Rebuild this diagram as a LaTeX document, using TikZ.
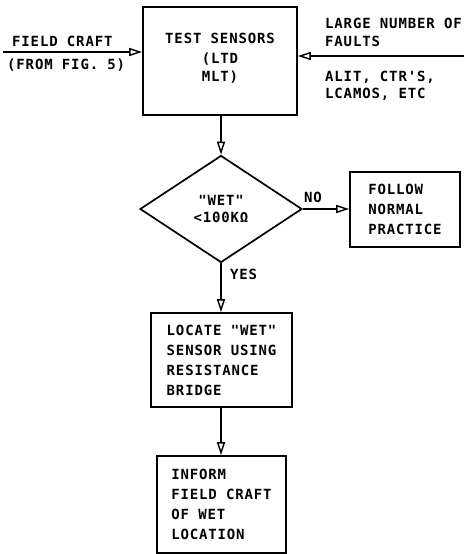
\documentclass[tikz,border=0pt]{standalone}
\usepackage{fontspec}
\setmonofont{DejaVu Sans Mono}[LetterSpace=6, BoldFont={DejaVu Sans Mono Bold}]
\usetikzlibrary{arrows.meta, shapes.geometric, positioning}

\tikzset{
  flow/.style={line width=1.7pt, -{Triangle[open, length=13pt, width=8pt, line width=1.4pt]}},
  stepbox/.style={draw, line width=1.7pt, align=left, inner sep=0pt},
  txt/.style={inner sep=0pt, align=left, anchor=west}
}

\begin{document}
\begin{tikzpicture}[x=1pt, y=-1pt, font=\ttfamily\bfseries\fontsize{14}{20}\selectfont]
  \useasboundingbox (0,0) rectangle (464,554);
  % boxes
  \node[stepbox, align=center, minimum width=154, minimum height=108] (sens) at (220,61)
    {TEST SENSORS\\[0pt](LTD\\[-2pt]MLT)\\[-12pt]};
  \node[draw, line width=1.7pt, shape=diamond, minimum width=162, minimum height=107,
    inner sep=0pt, align=center] (wet) at (221,209) {"WET"\\[-3pt]<100KΩ};
  \node[stepbox, minimum width=110, minimum height=75] (follow) at (405,209.5)
    {FOLLOW\\NORMAL\\PRACTICE};
  \node[stepbox, minimum width=141, minimum height=94] (locate) at (221.5,360)
    {LOCATE "WET"\\SENSOR USING\\RESISTANCE\\BRIDGE};
  \node[stepbox, minimum width=129, minimum height=97] (inform) at (221.5,504.5)
    {INFORM\\FIELD CRAFT\\OF WET\\LOCATION};
  % inputs
  \coordinate (lin) at (3,52);
  \coordinate (rin) at (464,56);
  \node[txt] (fc) at (12,41) {FIELD CRAFT};
  \node[txt] (fig) at (7,65) {(FROM FIG. 5)};
  \node[txt, font=\ttfamily\bfseries\fontsize{14}{18}\selectfont] (many) at (325,32) {LARGE NUMBER OF\\FAULTS};
  \node[txt, font=\ttfamily\bfseries\fontsize{14}{17}\selectfont] (alit) at (325,85.5) {ALIT, CTR'S,\\LCAMOS, ETC};
  \draw[flow] (lin) -- (lin -| sens.west);
  \draw[flow] (rin) -- (rin -| sens.east);
  % flow
  \draw[flow] (sens.south -| wet.north) -- (wet.north);
  \draw[flow] (wet.east) -- (follow.west |- wet.east);
  \node[anchor=south west, inner sep=0pt] (no) at ([xshift=1pt, yshift=6pt]wet.east) {NO};
  \draw[flow] (wet.south) -- (locate.north -| wet.south);
  \node[anchor=north west, inner sep=0pt] (yes) at ([xshift=9pt, yshift=-6pt]wet.south) {YES};
  \draw[flow] (locate.south -| wet.south) -- (inform.north -| wet.south);
\end{tikzpicture}
\end{document}
